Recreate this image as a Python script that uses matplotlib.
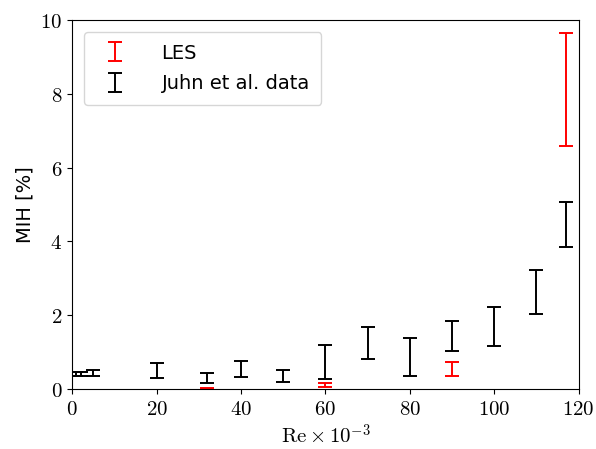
import numpy as np
import matplotlib.pyplot as plt

plt.rcParams['mathtext.fontset'] = 'cm'
plt.rcParams['font.family'] = 'DejaVu Sans'

# Juhn et al. data (Re x 1e-3, min, max MIH %)
juhn_re = [1, 2, 5, 20, 32, 40, 50, 60, 70, 80, 90, 100, 110, 117]
juhn_lo = [0.36, 0.36, 0.35, 0.30, 0.16, 0.33, 0.19, 0.27, 0.81, 0.35, 1.03, 1.17, 2.03, 3.86]
juhn_hi = [0.46, 0.46, 0.52, 0.70, 0.43, 0.76, 0.51, 1.19, 1.68, 1.38, 1.84, 2.22, 3.22, 5.07]

# LES
les_re = [32, 60, 90, 117]
les_lo = [0.0, 0.06, 0.35, 6.58]
les_hi = [0.03, 0.16, 0.73, 9.66]


def bars(lo, hi):
    lo = np.array(lo)
    hi = np.array(hi)
    mid = (lo + hi) / 2
    return mid, [mid - lo, hi - mid]


fig = plt.figure(figsize=(5.96, 4.49), dpi=100)
ax = fig.add_axes([0.121, 0.134, 0.850, 0.821])

m, e = bars(les_lo, les_hi)
ax.errorbar(les_re, m, yerr=e, fmt='none', ecolor='red', capsize=5,
            elinewidth=1.4, capthick=1.4, label='LES')
m, e = bars(juhn_lo, juhn_hi)
ax.errorbar(juhn_re, m, yerr=e, fmt='none', ecolor='black', capsize=5,
            elinewidth=1.4, capthick=1.4, label='Juhn et al. data')

ax.set_xlim(0, 120)
ax.set_ylim(0, 10)
ax.set_xticks([0, 20, 40, 60, 80, 100, 120])
ax.set_xticklabels([f'${v}$' for v in [0, 20, 40, 60, 80, 100, 120]], fontsize=15)
ax.set_yticks([0, 2, 4, 6, 8, 10])
ax.set_yticklabels([f'${v}$' for v in [0, 2, 4, 6, 8, 10]], fontsize=15)
ax.set_xlabel(r'$\mathrm{Re} \times 10^{-3}$', fontsize=15)
ax.set_ylabel('MIH [%]', fontsize=14)
ax.legend(loc='upper left', fontsize=14, borderpad=0.6, handletextpad=1.4,
          labelspacing=0.6, borderaxespad=0.6)

fig.savefig('out.png', dpi=100)
